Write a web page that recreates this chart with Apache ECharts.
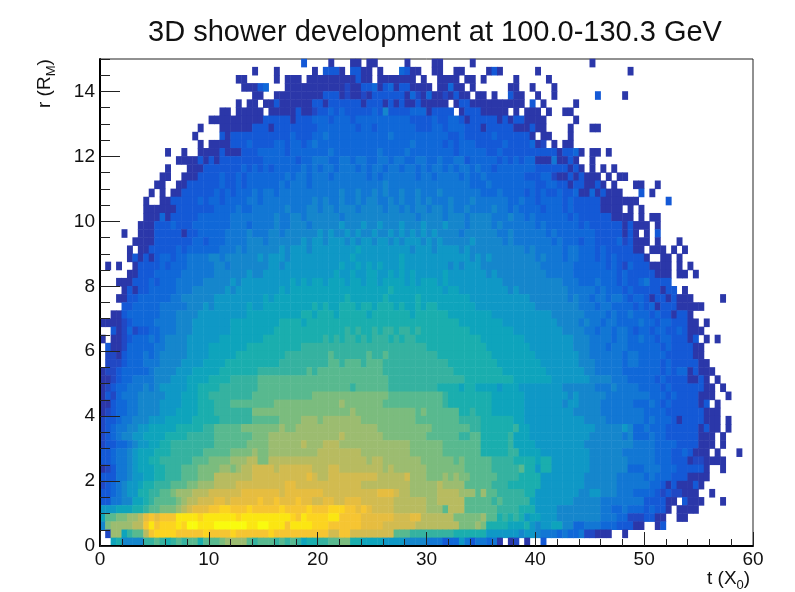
<!DOCTYPE html>
<html><head><meta charset="utf-8">
<style>html,body{margin:0;padding:0;background:#fff}#c{width:795px;height:592px}</style>
<script src="https://cdn.jsdelivr.net/npm/echarts@6/dist/echarts.min.js"></script>
</head><body><div id="c"></div>
<script>
// Colour level per bin. Each string is one r row (top row first),
// split in groups of 10 t bins. '.' = empty bin; a..t = rising z level.
const rowsTopDown = [
".......... .......... .......... .......c.. ..a...aa.a a.....a... .aa.....a. .......... .......... a......... .......... ..........",
".......... .......... ........a. ..a......a .ccca.ccaa .a...dcaa. .aa..aa... .aca...... a......... .......a.. .......... ..........",
".......... .......... .....aa... ..a.aaa.aa aaaaaaacaa .aaaaaaa.a ..aaaa.aa. a.....a... ..a....... .......... .......... ..........",
".......... .......... ......aaac d...aaaaaa aaaaabaacc dacdaccaaa a.aadaa.a. .....aa..a ...a...... .......... .......... ..........",
".......... .......... ........aa ..aaaaaaaa acccabaaba ccccccadba daabacaa.a a.a..caa.. a..a...... .c....a... .......... ..........",
".......... .......... .....a.aa. aacaaaaaac caccccccac ccacacaaca aaaa.accaa aaaaaaaa.c .a.....a.. .......... .......... ..........",
".......... .......... ..aa.aaaaa .aaaaacaab ccdcdccccc dcfccccddd acccc.accc aaaaa.a.aa a.a..aa... .......... .......... ..........",
".......... .......... aaaaaaaaaa cccccacccd ddcdddcddd dddddddccc cdccddcacc cccacaccaa aa.....a.. .......... .......... ..........",
".......... ........a. ..aaaaaacc cacccccccc dddddddcdd cdddddddcc cddcdddccc acccccaaac aa....a... aa........ .......... ..........",
".......... .......a.. ..cacccccc cccccdcccd dedddddddd dddedddddd ddddccdccc ccdcccccca .aa...a... .......... .......... ..........",
".......... ........a. aaaacccdcc ccddcddcde dddddddddd dddddddedd dddcdcdddc ccccdccccd ab.a.aa... .......... .......... ..........",
".......... ..a..a..aa aacaaacccd ddddcddddd ddeddddddd deddddeddd dddddcdddd dccdcccccc ccccaccda. aa.a...... .......... ..........",
".......... ....aaaaca cacccccccc ddddddcdde eeddeedeed deedeeddee ddeddeecdd dddcdcdcdd aaaeaaca.. a......... .......... ..........",
".......... ..a...aaac ccccccdcdc dcdddddede deedeeeded eedeedeede deededeede ddcddddddd ccccccaca. a.a.a..... .......... ..........",
".......... .aa..aaacc ccdccdcddd ddddedeede eedeeeeeed edeeeeeede edeeeededd edddddddcc cddbaacaca aa.a.aa... .......... ..........",
".......... aa..aacccc ccdccdcddd dddedeeede eeeeeeeeee eefeeeeeee eeeeeeeedd dedddddddd ccddccacca aca.a...aa ..a....... ..........",
".........a .a.aaccccc cdcdcddded eedeeeeeee eeeefeefee fefeefeefe eefeeeeeee dddeddddcd cdccdccdaa dacaaa...c .a........ ..........",
"........a. .aacccccdc ddcddddeed eeeeeeeeef efeefeefef feefefeefe feeefeeefe eeeeeddedd cddddcdccc ccaaaaaaa. ....c..... ..........",
"........aa aaaacccccc cddddeddee eeeefeeeff effefffeff ffeffefeff effefeefee eefeededdd dcdddcdccc ccaaaa.a.a .......... ..........",
"........aa adacccccdd ddddeeeeee eefeeffeff ffffefffff ffffffffef fffefffeff ffeeefeede ddddddcdcc ccccaaaa.a .aa....... ..........",
".......aaa cccdcccddd ddddeeedee eefeefffef ffffgfffgf fgfffgfffg fffgfffeff ffefeeeeee deddddddcd ccccccacaa a.a....... ..........",
"....a..aaa cccccaccdd dddeeeefee effeffffff gfgffgfgff gffgfgfgfg fgffffefff fffeefeeee eededddddd dcccccaca. a.c....... ..........",
"......aaaa cccccccddc dddeeeefff effffffgfg gfgggfgfgg fggfgfgggf gfgfffffgf ffffefeeee eeededddcd dccccdbcaa a.a...a... ..........",
".....a.aac ccccdcdddd ddeeefefff fffgfgggfg ggggggghgg gggggggfgg gfggggfgff ffffffffef eeeeedeedd dcdcccccaa .aaa.a.a.. ..........",
".....acaca cddcddeeee ffeffffffg fgggfggggg gggggghggg ggggghgggg ggggggggfg fgffffffff efeeedeedd dcdcdccccc a..aa.a... ..........",
".a.a..accc cdcdddeeee effeffffff fggfgggggg gggghgghgh ghggghgggg ggggfgfggg ffffffffff feeeeeeddd dddcdcbdcc caaaa.a.a. ..........",
".....aaccc dddddeeeee effffffgff gggggggggg ggghgghggh hgghghghgg ggghgggggg gfgfffffff ffeeeeeddd dddddcdccc ccaaa.aa.a ..........",
"...aaacccd cdddeeeeef ffffgfgggg ggggghghgh hghhhghhgh hghhhhghgh hhghgggggg ggggffffff fffffeeedd dedddcdccd ecccc..... ..........",
"....acaccd ddddeeefff fffgfggggg ggghghhhhh hhhhhhhhhh hhhihhhhhh hhhghhgggg gggggfgfff ffffffeeee ededddcdcc cccacc.a.. ..........",
"...aaccddd dddeefffff fggggggggg hghhhhhhhh hhhhhihhhh hhihhhhhih hhhhhhhhgg gggggggggf ffffffefee deedeedcdd caccacaaa. ....a.....",
"....ccdddd deeeeefffg fgggggghgg hhhhhhhhhi hihhiiihii hiiihihhih iihhhhhhhg gggggggggg ffffffffee edeeddddcd cdacccaaaa a.........",
"..aacddddd deeeffffgg ggggggghhh hhhhhhhiih iiihiiiiih iiiiiiihii iiiihhhhhh hhgggggggg gggffffffe eeededdedd dcdccacca. ..........",
"aaaabcdddd eeeefffggg gggghhhhhh hhhiiiihii iiiiiiiiii iiiiiiiiii iiiiiihhhh hhhhgggggg ggggffffef eedeedddde ddcddcccaa .a........",
"..cabdbccd deeefffggg gggghhhhhh hhiiiiiiii iiiiijijii jijjijjiji iiiiiiiihh hhhhhhgggg gggggffffe edeedeedcd dcddccdcaa a.........",
"a.aabcddde deffffgggg gghhhhhhhh iiiiiiiiii ijijijjiji jjjijijjii iiiiiiiiii hhhhhhhhgg gggggggfff eeeedeedde ddcddcccac .a.a......",
".caabddddd eeffffgggg hhhhhhhiii iiiiiiijjj jjjjjjjjjj jjjjjjjjjj iiiiiiiiii ihhhhhhhhg gggggggfff eeedeeeddd dddcdcccca a.........",
".bbacddded efffffgggg hhhhhiiiii iiiijjjjjj jjkjjjjjjk jjkjjjjjjj jjiiiiiiii iihhhhhhhh ggggggggff eeeeeedeed ddddccccca a.........",
".bbbcdddee effffggggh hhhiiiiiii iiijjjjjjj jjkkjkkkjk kkjjjjjjjj jjjjiiiiii iiihhhhhhh hgggggggff feeeeedeed dddcdccccc aa........",
"abbcddddde ffffggghhh hhiiiiiiij jjjjjjjjkj kkkkkkkkkk kkjjjjjjjj jjjjjiiiii iiiihhhhhh hhgggggggf feeeeedddd dddcdcddac aaa.......",
"aabcddeeee fffggghhhh iiiijjjjjk kkkkkkkkkk kkkkkkkkkk kkkjjjjjjj jjjjjjjiii iiiiiihhhh hhhggggggg ffffeeeddd ddcdccccaa ca.a......",
"abcddeeefe fggggghhii iijjjjjjjk kkkkkkkkkk kkkkkkjkkk kkkjjjjjjj jjiiiihiih hhhghhhggg gggggfffff feeefeeeed dddcdccccc caa.a.....",
"acbdeeefff ffggghhhii jjjjjjjjkk kkkkkkkkkl llllllllll lllkkkkkkk kkkjiiiiii iihhhhhhgg ggggggfgff fffeeeeeee edddcdcccc aaa..a....",
"aacddeefff fgggghhhii ijjjkkkkkk kkllllllll llllmlllll llkkkkkkkk kkkjiiiiii iihhhhhhgg gggggfggff ffeeeeeedd dedcdccccc ac.a......",
"abcddeefff fggghhhhii ijjjjjjjll llllllllll llllllmlll llllllllkl kkkkkkiiji iihhhhhhgg gggggggfff ffeeeeeeee ddddcccccc caaa......",
"bccdeefffg gghhhhhiii iijjjjjjkk kkkllllmmm lmmmmmmmll llllllllkk kkkkkkjjjj iiiiiihhgg gggggggggf fffeeeeeee dedddcaccc caaa.a....",
"bcdeeffggh hhhhiiiiij jkkkkkllll lllmllmmmm mmmmmmmmmm mlllllllll lkkkkkkkjj iiiiiijhhg gggggggggg gfffffgfdd edddcccccc acaa.a....",
"bcdeffgghh hhiiiijjjj jkkkkkkkll lmmmmmmmmm mmmmnmmmmm mmllllllll kkkkkkjjkk iiiiijhhhg gggggggggg ffffffefdd deddcccccc aaa.a.....",
"bccddefggh hiijjjjjjj jkkkkkklll lmmmmmmnmm mnnnmmmmmm mmmmmmmlll lllkkkkkkk iiiiijhhhh gggggggggf ffffffffee eeddddcccc aaa.a.....",
"ccdeefghhh iiijjjjjjk kkkkllllml lmmmmmmmmm nnnnnnnnmm mmmmmmmlll lllkkkkkkk iiiiijjhhh hggggggggg ffffffeeee eedddccdca aa.a...a..",
"ccdeefghhi ijjjjjjkkk llllmmmnnl lnnnnnnnnn nnnnnnnnnm nnmmmmmmml lllllklkkk kkjjjjiiii hiiggggggg fffffffeee eedddcccab baaaa.....",
"abceefghhh iijjjkkkll llmmlmnnoo oonoooooon nnoonnnnnn nnmnmmmmmm lllllllkkk kkjjjjjkii giiggggggg fffffffddd eeedddcccc ca..a.....",
"ccceefgghh iijjjkkkll lnnnnnnnoo oooooooopo nnoooooooo onnnnnommm lllmlmllkk kkkjjjjiii iggggggggf fffffeeeee dedddcccaa aa........",
"bcdefgghii jjjkkkllmm mnnnnooooo ooooppoooo oooooooonn nnnnnnnmmm mmnmmmmkkk kkjjjiiiii iggggggggf fffffeeeee eddcacaaac a.........",
"ccdefggiij jkklmmmnnn oooooopppp pppopppppp pooooooooo oppponnmmm mmnnnnmmmk mkkjjjjjii ggggggggff ggfffeeedd ddcbcbbaaa ..a.......",
"cceeffhhij kkkklmnnoo oppopppppq ppqpppqppo oppoopppoo oooonnnnnn mmnnnnnkkk kkjkjjjjjh gggggggfff ffeeeeeeee ccccaa.caa a...a.....",
"ggghhhiijk klllmnoppp qqrrqqqrqq qqqrqqqqrq qqrrrqqpqp oooonnnnnn mmmknnnkkk kkkjjjjiii ggggffffff ffeeddeddd cdcca.aaaa ..........",
"hkkllmmnpq pqqqssssrs sssssrssss sssssrqsrr rrssqqqqpp ppppoooppn nnnnnlllll mkkijijigh hgggffffff ffeeeddbbb ccaa..aa.. ..........",
"flmmmmnnqs qrrrsrttss sttttttsst tsssqssssr rrqqqqqqpp ppoooooonn nnnnnnlllm liiiihhhig fgghhffdde eedddcccaa ..ac...... ..........",
".bmmhjkknq rrrrqqqqqr qqqqrqqqqq qrqqqqqqqq qqooqqoooo ooookkkjjj jjjjjiiiii iggggggfgg feeededdeb baaa..a... .......... ..........",
"..hiffffjj kjijkjkkik kklmmmmkjk kkjkjkjhii jjkklliihh hhggggffff eeecddgece edea.ab.a. .c........ .......... .......... .........."
];
const levelColors = ["#2b37a9","#2148c4","#1459d6","#1068d8","#1277d4","#1586cc","#0f98c6","#0ea4bc","#1aaeae","#35b2a0","#58b98f","#7bbc7e","#9cbc70","#b8bb60","#d2bb50","#e6bd40","#f6c532","#fcd420","#fbe612","#f9fb0e"];
const levelKeys = "abcdefghijklmnopqrst";
const tBins = Array.from({length:120},(_,i)=>i);
const rBins = Array.from({length:60},(_,i)=>i);
const chartTitle = "3D shower development at 100.0-130.3 GeV";

const cells = [];
rowsTopDown.forEach((row,k)=>{
  const r = rowsTopDown.length-1-k;
  row.split(" ").forEach((g,gi)=>{
    for(let i=0;i<10;i++){
      const lv = levelKeys.indexOf(g[i]);
      if(lv>=0) cells.push([gi*10+i,r,lv]);
    }
  });
});
const FONT = '"Liberation Sans",Arial,sans-serif';
const chart = echarts.init(document.getElementById('c'),null,{renderer:'canvas'});
chart.setOption({
  animation:false,
  backgroundColor:'#fff',
  title:{text:chartTitle,left:430,top:13,textAlign:'center',
    textStyle:{fontFamily:FONT,fontSize:29,fontWeight:'normal',color:'#111'}},
  grid:{left:100,top:59,width:653,height:487,show:true,borderColor:'#222',borderWidth:1,backgroundColor:'transparent'},
  xAxis:[
    {type:'value',position:'bottom',min:0,max:60,interval:10,z:5,
     axisLine:{show:true,lineStyle:{color:'#000',width:2}},
     axisTick:{show:true,inside:true,length:14,lineStyle:{color:'#222',width:1}},
     minorTick:{show:true,splitNumber:5,length:7,lineStyle:{color:'#222',width:1}},
     splitLine:{show:false},
     axisLabel:{fontFamily:FONT,fontSize:19,color:'#111',margin:4}},
    {type:'category',show:false,data:tBins,position:'bottom'}
  ],
  yAxis:[
    {type:'value',position:'left',min:0,max:15,interval:2,z:5,
     axisLine:{show:true,lineStyle:{color:'#000',width:2}},
     axisTick:{show:true,inside:true,length:20,lineStyle:{color:'#222',width:1}},
     splitLine:{show:false},
     axisLabel:{fontFamily:FONT,fontSize:19,color:'#111',margin:5,showMaxLabel:false,
       formatter:v=>v%2===0?String(v):''}},
    {type:'value',position:'left',min:0,max:15,interval:0.5,z:5,
     axisLine:{show:false},axisLabel:{show:false},splitLine:{show:false},
     axisTick:{show:true,inside:true,length:10,lineStyle:{color:'#222',width:1}}},
    {type:'category',show:false,data:rBins,position:'left'}
  ],
  visualMap:{show:false,min:0,max:19,dimension:2,seriesIndex:0,inRange:{color:levelColors}},
  series:[{type:'heatmap',xAxisIndex:1,yAxisIndex:2,data:cells,z:1,progressive:0,
    itemStyle:{borderWidth:0},emphasis:{disabled:true}}],
  graphic:[
    {type:'text',x:707,y:565,z:10,style:{text:'t (X{s|0})',fontFamily:FONT,fontSize:19,fill:'#111',
      rich:{s:{fontFamily:FONT,fontSize:13,fill:'#111',padding:[14,0,0,0]}}}},
    {type:'text',x:31,y:108,rotation:Math.PI/2,z:10,style:{text:'r (R{s|M})',fontFamily:FONT,fontSize:19,fill:'#111',
      rich:{s:{fontFamily:FONT,fontSize:13,fill:'#111',padding:[14,0,0,0]}}}}
  ]
});
</script></body></html>
